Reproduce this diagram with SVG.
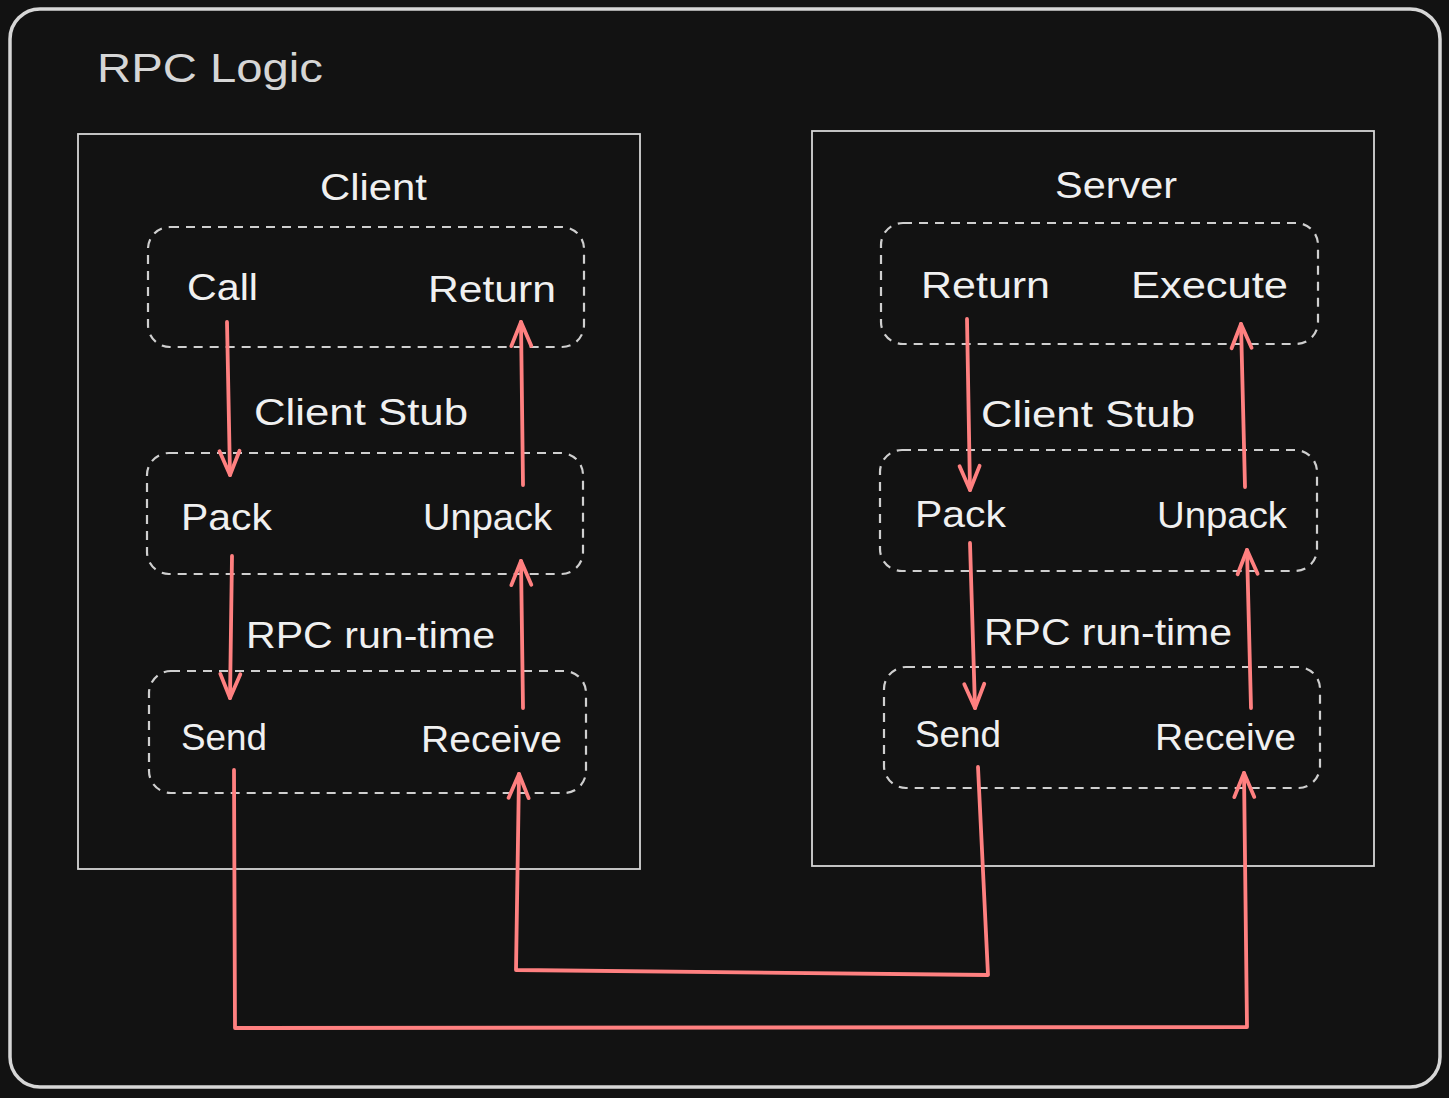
<svg xmlns="http://www.w3.org/2000/svg" width="1449" height="1098" viewBox="0 0 1449 1098">
<defs>
<style>
.frame{fill:none;stroke:#d6d6d6;stroke-width:3.5}
.box{fill:none;stroke:#d6d6d6;stroke-width:1.8}
.dash{fill:none;stroke:#cfcfcf;stroke-width:2.2;stroke-dasharray:9 7}
.lbl{font-family:"Liberation Sans",Arial,sans-serif;font-size:36px;fill:#f0f0f0}
.ttl{font-family:"Liberation Sans",Arial,sans-serif;font-size:40px;fill:#d6d6d6}
.arr{fill:none;stroke:#ff8080;stroke-width:3.8;stroke-linecap:round;stroke-linejoin:round;marker-end:url(#ah)}
</style>
<marker id="ah" markerUnits="userSpaceOnUse" markerWidth="44" markerHeight="44" viewBox="-32 -22 44 44" refX="0" refY="0" orient="auto">
<path d="M-24,-10 L0,0 L-24,10" fill="none" stroke="#ff8080" stroke-width="3.8" stroke-linecap="round" stroke-linejoin="round"/>
</marker>
</defs>
<rect width="1449" height="1098" fill="#121212"/>
<g id="rpc-logic">
<rect class="frame" x="10" y="9" width="1430" height="1078" rx="30"/>
<text class="ttl" x="97" y="82" textLength="226" lengthAdjust="spacingAndGlyphs">RPC Logic</text>
</g>
<g id="client">
<rect class="box" x="78" y="134" width="562" height="735"/>
<text class="lbl" x="320" y="200" textLength="107" lengthAdjust="spacingAndGlyphs">Client</text>
</g>
<g id="client-top">
<rect class="dash" x="148" y="227" width="436" height="120" rx="22"/>
<text class="lbl" x="187" y="300" textLength="71" lengthAdjust="spacingAndGlyphs">Call</text>
<text class="lbl" x="428" y="302" textLength="128" lengthAdjust="spacingAndGlyphs">Return</text>
</g>
<text class="lbl" x="254" y="425" textLength="214" lengthAdjust="spacingAndGlyphs">Client Stub</text>
<g id="client-mid">
<rect class="dash" x="147" y="453" width="436" height="121" rx="22"/>
<text class="lbl" x="181" y="530" textLength="91" lengthAdjust="spacingAndGlyphs">Pack</text>
<text class="lbl" x="423" y="530" textLength="129" lengthAdjust="spacingAndGlyphs">Unpack</text>
</g>
<text class="lbl" x="246" y="648" textLength="249" lengthAdjust="spacingAndGlyphs">RPC run-time</text>
<g id="client-bot">
<rect class="dash" x="149" y="671" width="437" height="122" rx="22"/>
<text class="lbl" x="181" y="750" textLength="86" lengthAdjust="spacingAndGlyphs">Send</text>
<text class="lbl" x="421" y="752" textLength="141" lengthAdjust="spacingAndGlyphs">Receive</text>
</g>
<g id="server">
<rect class="box" x="812" y="131" width="562" height="735"/>
<text class="lbl" x="1055" y="198" textLength="122" lengthAdjust="spacingAndGlyphs">Server</text>
</g>
<g id="server-top">
<rect class="dash" x="881" y="223" width="437" height="121" rx="22"/>
<text class="lbl" x="921" y="298" textLength="129" lengthAdjust="spacingAndGlyphs">Return</text>
<text class="lbl" x="1131" y="298" textLength="157" lengthAdjust="spacingAndGlyphs">Execute</text>
</g>
<text class="lbl" x="981" y="427" textLength="214" lengthAdjust="spacingAndGlyphs">Client Stub</text>
<g id="server-mid">
<rect class="dash" x="880" y="450" width="437" height="121" rx="22"/>
<text class="lbl" x="915" y="527" textLength="91" lengthAdjust="spacingAndGlyphs">Pack</text>
<text class="lbl" x="1157" y="528" textLength="130" lengthAdjust="spacingAndGlyphs">Unpack</text>
</g>
<text class="lbl" x="984" y="645" textLength="248" lengthAdjust="spacingAndGlyphs">RPC run-time</text>
<g id="server-bot">
<rect class="dash" x="884" y="667" width="436" height="121" rx="22"/>
<text class="lbl" x="915" y="747" textLength="86" lengthAdjust="spacingAndGlyphs">Send</text>
<text class="lbl" x="1155" y="750" textLength="141" lengthAdjust="spacingAndGlyphs">Receive</text>
</g>
<g id="connectors">
<path class="arr" d="M227,322 L230,475"/>
<path class="arr" d="M523,485 L521,322"/>
<path class="arr" d="M232,556 L230,698"/>
<path class="arr" d="M523,708 L521,561"/>
<path class="arr" d="M234,770 L235,1028 L1247,1027 L1244,773"/>
<path class="arr" d="M978,767 L988,975 L516,970 L519,774"/>
<path class="arr" d="M967,319 L970,490"/>
<path class="arr" d="M1245,487 L1241,324"/>
<path class="arr" d="M970,543 L975,708"/>
<path class="arr" d="M1251,708 L1247,550"/>
</g>
</svg>
